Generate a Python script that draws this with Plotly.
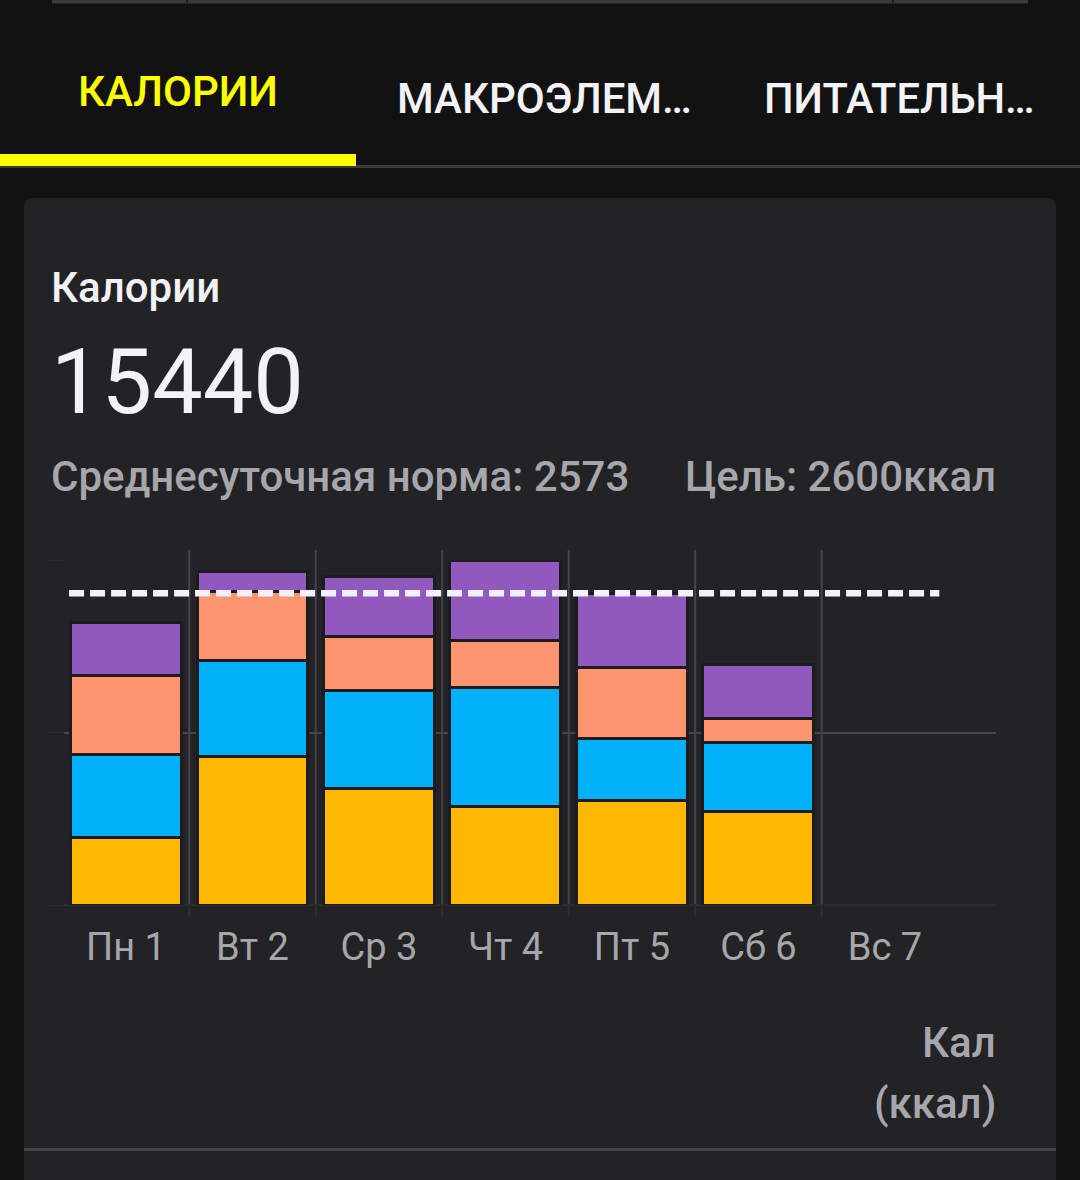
import plotly.graph_objects as go

# Data
day_labels = ["Пн 1", "Вт 2", "Ср 3", "Чт 4", "Пт 5", "Сб 6", "Вс 7"]
day_index = [0, 1, 2, 3, 4, 5, 6]
yellow_kcal = [563, 1241, 974, 824, 871, 776, None]
blue_kcal = [692, 801, 817, 992, 517, 578, None]
orange_kcal = [661, 570, 453, 394, 592, 200, None]
purple_kcal = [444, 167, 498, 664, 617, 450, None]
goal_kcal = 2600
grid_kcal = [0, 1439, 2878]

W, H = 1080, 1180
PAGE = "#121212"
CARD = "#232325"
GRID = "#454547"
GRAY = "#a6a6ac"
WHITE = "#f2f2f7"
FONT = "Roboto"


def px(x):
    return x / W


def py(y):
    return 1 - y / H


fig = go.Figure()
series = [
    ("Series 1", yellow_kcal, "#FFB800"),
    ("Series 2", blue_kcal, "#00B0F8"),
    ("Series 3", orange_kcal, "#FF9470"),
    ("Series 4", purple_kcal, "#9159BE"),
]
for name, vals, col in series:
    fig.add_trace(go.Bar(x=day_index, y=vals, name=name, width=0.877,
                         marker=dict(color=col, line=dict(color="#1c1c1e", width=3)),
                         hoverinfo="skip"))

fig.add_trace(go.Scatter(x=[-0.45, 6.43], y=[goal_kcal, goal_kcal], mode="lines",
                         line=dict(color="#f3f0ff", width=6.5, dash="15px,6px"),
                         hoverinfo="skip"))


def rrect(x0, y0, x1, y1, r):
    a, b, c, d = px(x0), py(y0), px(x1), py(y1)
    rx, ry = r / W, r / H
    return (f"M{a},{d} L{a},{b-ry} Q{a},{b} {a+rx},{b} L{c-rx},{b} Q{c},{b} {c},{b-ry} "
            f"L{c},{d} Z")


def prect(x0, y0, x1, y1, col):
    return dict(type="rect", xref="paper", yref="paper", x0=px(x0), x1=px(x1), y0=py(y0), y1=py(y1),
                fillcolor=col, line_width=0, layer="below")


shapes = [
    dict(type="path", xref="paper", yref="paper", path=rrect(24, 198, 1056, 1180, 9),
         fillcolor=CARD, line_width=0, layer="below"),
    prect(52, 0, 1028, 3.5, "#3a3a3a"),
    prect(186, 0, 188, 3.5, "#1e1e1e"),
    prect(892, 0, 894, 3.5, "#1e1e1e"),
    prect(0, 165, 1080, 168, "#3b3b3b"),
    prect(0, 154, 356, 166, "#FFFF00"),
    prect(24, 1148, 1056, 1151, "#414143"),
]
for i in day_index:
    shapes.append(dict(type="line", xref="x", yref="paper", x0=i - 0.5, x1=i - 0.5,
                       y0=py(906), y1=py(550), line=dict(color=GRID if i else "#2c2c2e", width=2),
                       layer="below"))
    shapes.append(dict(type="line", xref="x", yref="paper", x0=i - 0.5, x1=i - 0.5,
                       y0=py(917), y1=py(906), line=dict(color="#2e2e30", width=2),
                       layer="below"))


def txt(s, x, y, size, col, anchor="left", weight=400):
    nudge = {"left": -3, "right": 3, "center": 0}[anchor]
    return dict(text=s, xref="paper", yref="paper", x=px(x + nudge), y=py(y), xanchor=anchor, yanchor="middle",
                showarrow=False, align=anchor, font=dict(family=FONT, size=size, color=col, weight=weight))


annotations = [
    txt("КАЛОРИИ", 178, 92, 42, "#FFFF00", "center", 500),
    txt("МАКРОЭЛЕМ…", 398, 98, 42, WHITE, "left", 500),
    txt("ПИТАТЕЛЬН…", 765, 98, 41.7, WHITE, "left", 500),
    txt("Калории", 52, 287, 42, WHITE, "left", 500),
    txt("15440", 52, 382, 90, WHITE, "left", 400),
    txt("Среднесуточная норма: 2573", 52, 476, 42, GRAY, "left", 500),
    txt("Цель: 2600ккал", 995, 476, 42, GRAY, "right", 500),
    txt("Кал", 995, 1042, 42, GRAY, "right", 500),
    txt("(ккал)", 995, 1103, 42, GRAY, "right", 500),
]

fig.update_layout(
    width=W, height=H, margin=dict(l=0, r=0, t=0, b=0),
    paper_bgcolor=PAGE, plot_bgcolor="rgba(0,0,0,0)",
    barmode="stack", showlegend=False, shapes=shapes, annotations=annotations,
    font=dict(family=FONT),
    xaxis=dict(domain=[px(64), px(996)], range=[-0.49, 6.878], tickmode="array", tickvals=day_index,
               ticktext=day_labels, showgrid=False, zeroline=False, showline=False, ticks="",
               ticklabelstandoff=16, tickfont=dict(family=FONT, size=38, color=GRAY)),
    yaxis=dict(domain=[py(905), py(560)], range=[0, 2878], tickmode="array", tickvals=grid_kcal,
               showticklabels=False, showgrid=True, gridcolor=GRID, gridwidth=2, zeroline=True,
               zerolinecolor="#2c2c2e", zerolinewidth=2, ticks="outside", ticklen=16, tickwidth=1,
               tickcolor="#2c2c2e", showline=False),
)

fig.write_html("out.html", post_script="document.body.style.margin='0';",
               config=dict(displayModeBar=False))
